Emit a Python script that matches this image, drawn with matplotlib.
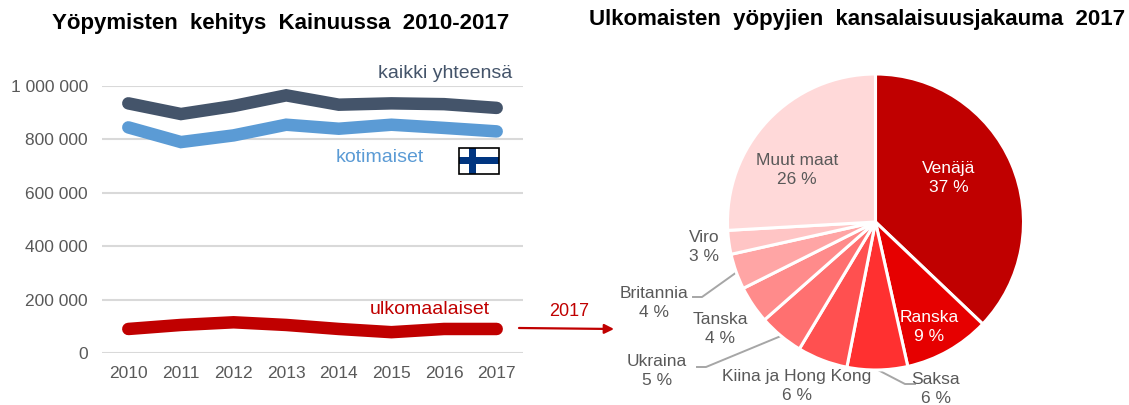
import numpy as np
from matplotlib import pyplot as plt
from matplotlib.patches import Rectangle

plt.rcParams["font.family"] = ["Liberation Sans", "DejaVu Sans"]

W, H = 1129, 405

years = ["2010", "2011", "2012", "2013", "2014", "2015", "2016", "2017"]
total = [935000, 895000, 925000, 965000, 930000, 935000, 932000, 918000]
domestic = [845000, 790000, 815000, 855000, 840000, 855000, 843000, 830000]
foreign = [90000, 105000, 115000, 105000, 90000, 78000, 90000, 90000]
y_ticks = [0, 200000, 400000, 600000, 800000, 1000000]
y_tick_labels = ["0", "200 000", "400 000", "600 000", "800 000", "1 000 000"]

countries = ["Venäjä", "Ranska", "Saksa", "Kiina ja Hong Kong", "Ukraina",
             "Tanska", "Britannia", "Viro", "Muut maat"]
shares = [37.1, 9.4, 6.6, 5.5, 4.9, 4.1, 3.9, 2.6, 25.9]
share_labels = [37, 9, 6, 6, 5, 4, 4, 3, 26]
pie_colors = ["#C00000", "#E60000", "#FF3030", "#FF5050", "#FF7070",
              "#FF8B8B", "#FFA5A5", "#FFC5C5", "#FFD9D9"]

TEXT = "#595959"
RED = "#C00000"


def px_axes(left, top, right, bottom):
    return fig.add_axes([left / W, 1 - bottom / H, (right - left) / W, (bottom - top) / H])


def fig_text(x, y, s, **kw):
    kw.setdefault("ha", "center")
    kw.setdefault("va", "center")
    fig.text(x / W, 1 - y / H, s, **kw)


fig = plt.figure(figsize=(W / 100, H / 100), dpi=100)

## line chart
ax = px_axes(102, 86, 523, 353)
x = np.arange(len(years))
ax.plot(x, total, color="#44546A", lw=9, solid_capstyle="round", solid_joinstyle="miter")
ax.plot(x, domestic, color="#5B9BD5", lw=9, solid_capstyle="round", solid_joinstyle="miter")
ax.plot(x, foreign, color=RED, lw=9, solid_capstyle="round", solid_joinstyle="miter")
ax.set_xlim(-0.5, 7.5)
ax.set_ylim(0, 1000000)
ax.set_xticks(x, years)
ax.set_yticks(y_ticks, y_tick_labels)
ax.tick_params(length=0, labelsize=12.5, labelcolor=TEXT, pad=10)
ax.tick_params(axis="x", pad=9)
ax.grid(axis="y", color="#D9D9D9", lw=1.5)
ax.set_axisbelow(True)
for side in ax.spines.values():
    side.set_visible(False)
for artist in ax.get_lines():
    artist.set_clip_on(False)

fig_text(281, 23, "Yöpymisten  kehitys  Kainuussa  2010-2017", fontsize=16, fontweight="bold", color="black")
fig_text(445, 73, "kaikki yhteensä", fontsize=14, color="#44546A")
fig_text(380, 157, "kotimaiset", fontsize=14, color="#5B9BD5")
fig_text(430, 310, "ulkomaalaiset", fontsize=14, color=RED)
fig_text(569, 311, "2017", fontsize=13, color=RED)

## flag
for rect, color in [
    ((459, 148, 40, 26), "white"),
    ((459, 157, 40, 7), "#003580"),
    ((469, 148, 7, 26), "#003580"),
]:
    fig.add_artist(Rectangle((rect[0] / W, 1 - (rect[1] + rect[3]) / H), rect[2] / W, rect[3] / H,
                             transform=fig.transFigure, facecolor=color, edgecolor="none"))
fig.add_artist(Rectangle((459 / W, 1 - 174 / H), 40 / W, 26 / H, transform=fig.transFigure,
                         facecolor="none", edgecolor="black", lw=1.2))

## arrow between the charts
overlay = fig.add_axes([0, 0, 1, 1], facecolor="none")
overlay.set_xlim(0, W)
overlay.set_ylim(H, 0)
overlay.axis("off")
overlay.annotate("", xy=(614, 329), xytext=(519, 328),
                 arrowprops=dict(arrowstyle="-|>", color=RED, lw=1.6, mutation_scale=14, shrinkA=0, shrinkB=0))

## pie
cx, cy, r = 875.5, 222, 148
pie_ax = px_axes(cx - r, cy - r, cx + r, cy + r)
pie_ax.pie(shares, colors=pie_colors, startangle=90, counterclock=False, radius=1,
           wedgeprops=dict(edgecolor="white", linewidth=2.2))
pie_ax.set_xlim(-1, 1)
pie_ax.set_ylim(-1, 1)

fig_text(857, 20, "Ulkomaisten  yöpyjien  kansalaisuusjakauma  2017", fontsize=16, fontweight="bold", color="black")

label_pos = [(949, 178), (929, 327), (936, 389), (797, 386), (657, 371),
             (720, 329), (654, 303), (704, 247), (797, 170)]
for name, share, pos, color in zip(countries, share_labels, label_pos, pie_colors):
    tc = "white" if color in ("#C00000", "#E60000") else TEXT
    fig_text(pos[0], pos[1], f"{name}\n{share} %", fontsize=12.5, color=tc, linespacing=1.3)

## leader lines
for xs, ys in [
    ([693, 702, 737], [297, 297, 272]),
    ([697, 706, 781], [367, 367, 336]),
    ([878, 905, 915], [370, 384, 384]),
]:
    overlay.plot(xs, ys, color="#A6A6A6", lw=1.4)

fig.savefig("out.png", dpi=100)
